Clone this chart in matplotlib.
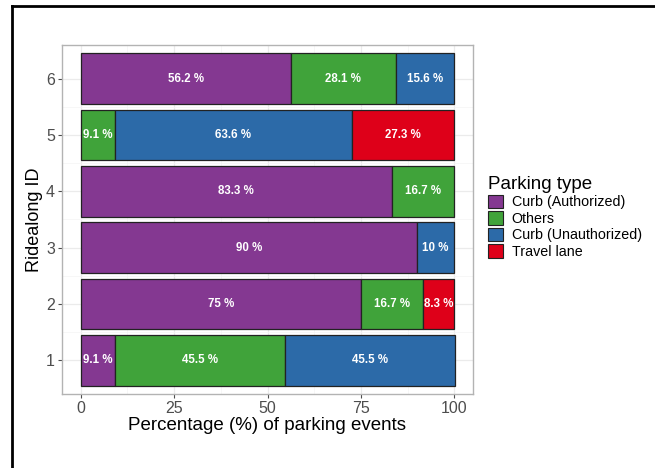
import matplotlib
matplotlib.use("Agg")
import matplotlib.pyplot as plt
from matplotlib.lines import Line2D
from matplotlib.patches import Patch
import numpy as np

plt.rcParams['font.family'] = ['Liberation Sans', 'DejaVu Sans']

ride_ids = ["1", "2", "3", "4", "5", "6"]
types = ["Curb (Authorized)", "Others", "Curb (Unauthorized)", "Travel lane"]
colors = ["#843891", "#40A33A", "#2C6AA8", "#DE0019"]

curb_auth = [9.1, 75.0, 90.0, 83.3, 0.0, 56.2]
others = [45.5, 16.7, 0.0, 16.7, 9.1, 28.1]
curb_unauth = [45.5, 0.0, 10.0, 0.0, 63.6, 15.6]
travel_lane = [0.0, 8.3, 0.0, 0.0, 27.3, 0.0]

x_ticks = [0, 25, 50, 75, 100]

series = [curb_auth, others, curb_unauth, travel_lane]

fig = plt.figure(figsize=(6.55, 4.68), dpi=100)
ax = fig.add_axes([62/655, 1-394/468, (473-62)/655, (394-45)/468])

ypos = np.arange(1, len(ride_ids) + 1)
left = np.zeros(len(ride_ids))
for vals, col in zip(series, colors):
    vals = np.array(vals)
    for i, v in enumerate(vals):
        if v <= 0:
            continue
        ax.barh(ypos[i], v, left=left[i], height=0.9, color=col,
                edgecolor="#222222", linewidth=0.9, zorder=3)
        ax.text(left[i] + v / 2, ypos[i], f"{v:g} %", ha="center", va="center",
                color="white", fontsize=8.3, fontweight="bold", zorder=4)
    left += vals

ax.set_xlim(-5, 105)
ax.set_ylim(0.4, 6.6)
ax.set_xticks(x_ticks)
ax.set_xticklabels([str(t) for t in x_ticks])
ax.set_xticks([12.5, 37.5, 62.5, 87.5], minor=True)
ax.set_yticks(ypos)
ax.set_yticklabels(ride_ids)
ax.set_yticks([1.5, 2.5, 3.5, 4.5, 5.5], minor=True)

ax.grid(True, which="major", color="#EBEBEB", linewidth=0.9, zorder=0)
ax.grid(True, which="minor", color="#F4F4F4", linewidth=0.5, zorder=0)
for s in ax.spines.values():
    s.set_color("#B3B3B3")
    s.set_linewidth(1.0)
ax.tick_params(axis="both", which="major", length=3, color="#4D4D4D",
               labelcolor="#4D4D4D", labelsize=11.5, pad=2)
ax.tick_params(axis="both", which="minor", length=0)

ax.set_xlabel("Percentage (%) of parking events", fontsize=13.5, color="black", labelpad=1)
ax.set_ylabel("Ridealong ID", fontsize=13, color="black", labelpad=2)

handles = [Patch(facecolor=c, edgecolor="#222222", linewidth=0.8, label=t)
           for c, t in zip(colors, types)]
leg = fig.legend(handles=handles, loc="upper left", bbox_to_anchor=(488/655, 1-176/468),
                 frameon=False, title="Parking type", fontsize=10.3, title_fontsize=13.5,
                 handlelength=1.05, handleheight=1.1, handletextpad=0.6,
                 labelspacing=0.12, borderaxespad=0, borderpad=0)
leg._legend_box.align = "left"

fig.add_artist(Line2D([12/655, 12/655], [0, 1-6/468], transform=fig.transFigure,
                      color="black", linewidth=2))
fig.add_artist(Line2D([12/655, 1], [1-6/468, 1-6/468], transform=fig.transFigure,
                      color="black", linewidth=2))

fig.savefig("out.png", dpi=100)
